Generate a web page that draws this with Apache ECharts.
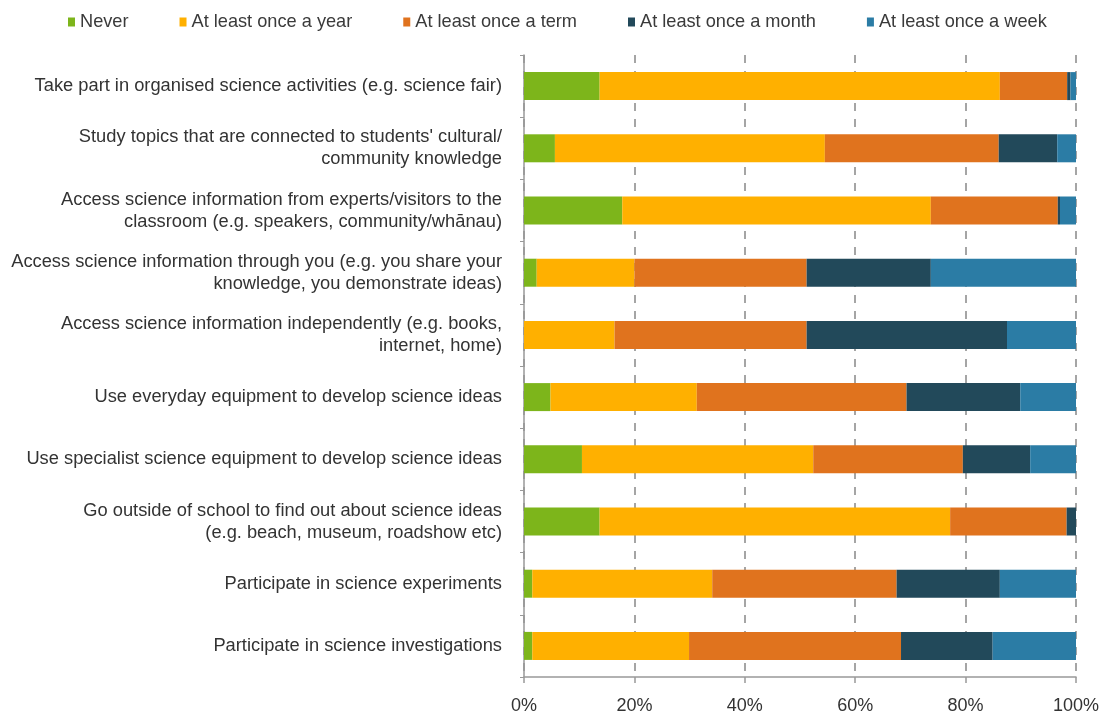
<!DOCTYPE html>
<html>
<head>
<meta charset="utf-8">
<script src="https://cdn.jsdelivr.net/npm/echarts@6/dist/echarts.min.js"></script>
<style>
html,body{margin:0;padding:0;background:#fff;}
#c{width:1105px;height:717px;}
</style>
</head>
<body>
<div id="c"></div>
<script>
var categories = [
  "Take part in organised science activities (e.g. science fair)",
  "Study topics that are connected to students' cultural/\ncommunity knowledge",
  "Access science information from experts/visitors to the\nclassroom (e.g. speakers, community/whānau)",
  "Access science information through you (e.g. you share your\nknowledge, you demonstrate ideas)",
  "Access science information independently (e.g. books,\ninternet, home)",
  "Use everyday equipment to develop science ideas",
  "Use specialist science equipment to develop science ideas",
  "Go outside of school to find out about science ideas\n(e.g. beach, museum, roadshow etc)",
  "Participate in science experiments",
  "Participate in science investigations"
];
var seriesNames = ["Never", "At least once a year", "At least once a term", "At least once a month", "At least once a week"];
var never = [13.7, 5.6, 17.8, 2.3, 0, 4.8, 10.5, 13.7, 1.5, 1.5];
var year  = [72.5, 48.9, 55.9, 17.7, 16.4, 26.5, 41.9, 63.5, 32.6, 28.4];
var term  = [12.2, 31.5, 23.0, 31.2, 34.8, 38.0, 27.1, 21.1, 33.4, 38.4];
var month = [0.6, 10.6, 0.4, 22.5, 36.3, 20.6, 12.2, 1.7, 18.7, 16.6];
var week  = [1.0, 3.4, 2.9, 26.3, 12.5, 10.1, 8.3, 0, 13.8, 15.1];
var tickValues = [0, 20, 40, 60, 80, 100];

var colors = ["#7db51b", "#ffb000", "#e0731e", "#22495a", "#2b7ca5"];
var values = [never, year, term, month, week];
var font = "'Liberation Sans', Arial, Helvetica, sans-serif";

var chart = echarts.init(document.getElementById('c'));
chart.setOption({
  animation: false,
  backgroundColor: '#fff',
  textStyle: {fontFamily: font},
  legend: {
    left: 63, top: 8,
    itemWidth: 7, itemHeight: 9, itemGap: 51,
    icon: 'rect',
    textStyle: {fontSize: 18.2, color: '#3a3a3a', fontFamily: font},
    data: seriesNames
  },
  grid: {left: 524, right: 29, top: 55, bottom: 40, containLabel: false},
  xAxis: {
    type: 'value', min: tickValues[0], max: tickValues[tickValues.length - 1], interval: 20,
    axisLine: {show: true, lineStyle: {color: '#999', width: 1.5}},
    axisTick: {show: true, length: 6, lineStyle: {color: '#999', width: 1.5}},
    axisLabel: {formatter: '{value}%', fontSize: 18, color: '#333', margin: 20, fontFamily: font},
    splitLine: {show: true, lineStyle: {color: '#888', width: 1.5, type: [8, 8]}}
  },
  yAxis: {
    type: 'category', inverse: true, data: categories,
    axisLine: {show: true, lineStyle: {color: '#999', width: 1.5}},
    axisTick: {show: true, length: 4, lineStyle: {color: '#999'}},
    axisLabel: {fontSize: 18.3, lineHeight: 22, color: '#333', margin: 22, align: 'right', fontFamily: font}
  },
  series: seriesNames.map(function (n, i) {
    return {
      name: n, type: 'bar', stack: 'total', barWidth: 28,
      itemStyle: {color: colors[i]},
      data: values[i]
    };
  })
});
</script>
</body>
</html>
